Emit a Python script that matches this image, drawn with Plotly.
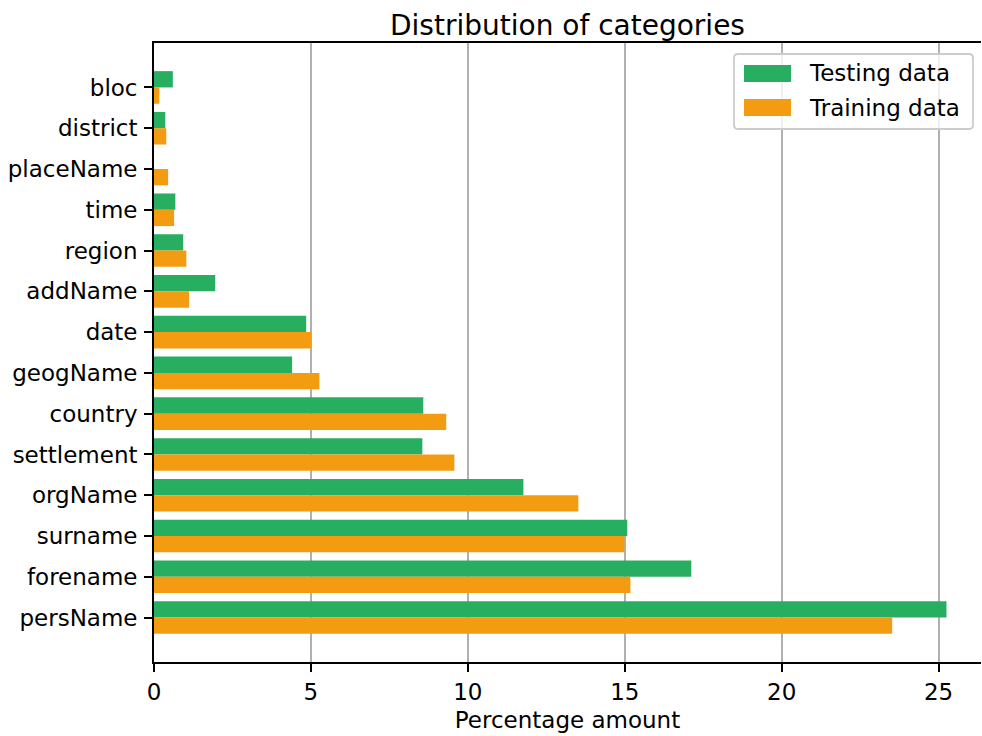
import plotly.graph_objects as go

# Entity categories, listed bottom to top
categories = ["persName", "forename", "surname", "orgName", "settlement", "country",
              "geogName", "date", "addName", "region", "time", "placeName",
              "district", "bloc"]

# Share of each category (%)
testing = [25.25, 17.12, 15.08, 11.77, 8.55, 8.58, 4.40, 4.85, 1.95, 0.93, 0.68, 0.0, 0.36, 0.60]
training = [23.52, 15.18, 14.99, 13.52, 9.57, 9.31, 5.27, 5.01, 1.12, 1.03, 0.64, 0.45, 0.39, 0.17]

x_ticks = [0, 5, 10, 15, 20, 25]

series = [("Testing data", testing, "#27ae60", 0.0),
          ("Training data", training, "#f39c12", -0.4)]

FONT = "DejaVu Sans"
W, H = 982, 736
M_L, M_R, M_T, M_B = 154, 1, 43, 74
PLOT_W = W - M_L - M_R
PLOT_H = H - M_T - M_B


def px_x(p):
    """Pixel column -> paper x."""
    return (p - M_L) / PLOT_W


def px_y(p):
    """Pixel row -> paper y."""
    return (H - M_B - p) / PLOT_H


positions = list(range(len(categories)))
bar_h = 0.4

fig = go.Figure()
for name, vals, color, off in series:
    fig.add_trace(go.Bar(
        y=positions, x=vals, orientation="h", name=name,
        marker=dict(color=color, line=dict(width=0)),
        width=bar_h, offset=off, showlegend=False,
    ))

# Legend box with rounded corners, wide colour patches and labels
shapes = []
annotations = []
x0, x1, y0, y1, r = 734, 973, 54, 129, 4
path = (f"M{px_x(x0 + r)},{px_y(y0)} L{px_x(x1 - r)},{px_y(y0)} "
        f"Q{px_x(x1)},{px_y(y0)} {px_x(x1)},{px_y(y0 + r)} "
        f"L{px_x(x1)},{px_y(y1 - r)} Q{px_x(x1)},{px_y(y1)} {px_x(x1 - r)},{px_y(y1)} "
        f"L{px_x(x0 + r)},{px_y(y1)} Q{px_x(x0)},{px_y(y1)} {px_x(x0)},{px_y(y1 - r)} "
        f"L{px_x(x0)},{px_y(y0 + r)} Q{px_x(x0)},{px_y(y0)} {px_x(x0 + r)},{px_y(y0)} Z")
shapes.append(dict(type="path", path=path, xref="paper", yref="paper",
                   fillcolor="rgba(255,255,255,0.8)",
                   line=dict(color="#cccccc", width=1.8), layer="above"))
for i, (name, _, color, _) in enumerate(series):
    top = 65 + i * 34
    shapes.append(dict(type="rect", xref="paper", yref="paper",
                       x0=px_x(744), x1=px_x(791), y0=px_y(top + 17), y1=px_y(top),
                       fillcolor=color, line=dict(width=0), layer="above"))
    annotations.append(dict(text=name, xref="paper", yref="paper",
                            x=px_x(807), y=px_y(top + 8.5), xanchor="left", yanchor="middle",
                            showarrow=False, font=dict(family=FONT, size=23, color="black")))

fig.update_layout(
    width=W, height=H,
    margin=dict(l=M_L, r=M_R, t=M_T, b=M_B, pad=0),
    paper_bgcolor="white", plot_bgcolor="white",
    font=dict(family=FONT, size=23, color="black"),
    barmode="overlay",
    showlegend=False,
    shapes=shapes,
    annotations=annotations,
    title=dict(text="Distribution of categories", x=0.5, xref="paper", xanchor="center",
               y=1, yref="paper", yanchor="bottom", pad=dict(b=8),
               font=dict(family=FONT, size=28, color="black")),
    xaxis=dict(
        range=[0, 26.35], tickmode="array", tickvals=x_ticks,
        ticks="outside", ticklen=8, tickwidth=1.8, tickcolor="black",
        showline=True, linecolor="black", linewidth=1.8, mirror=True,
        showgrid=True, gridcolor="#b0b0b0", gridwidth=1.8,
        zeroline=False,
        title=dict(text="Percentage amount", standoff=8, font=dict(size=23)),
    ),
    yaxis=dict(
        range=[-1.09, 14.09], tickmode="array", tickvals=positions, ticktext=categories,
        ticks="outside", ticklen=8, tickwidth=1.8, tickcolor="black",
        ticklabelstandoff=2,
        showline=True, linecolor="black", linewidth=1.8,
        showgrid=False, zeroline=False,
    ),
)

fig.write_html("out.html")
